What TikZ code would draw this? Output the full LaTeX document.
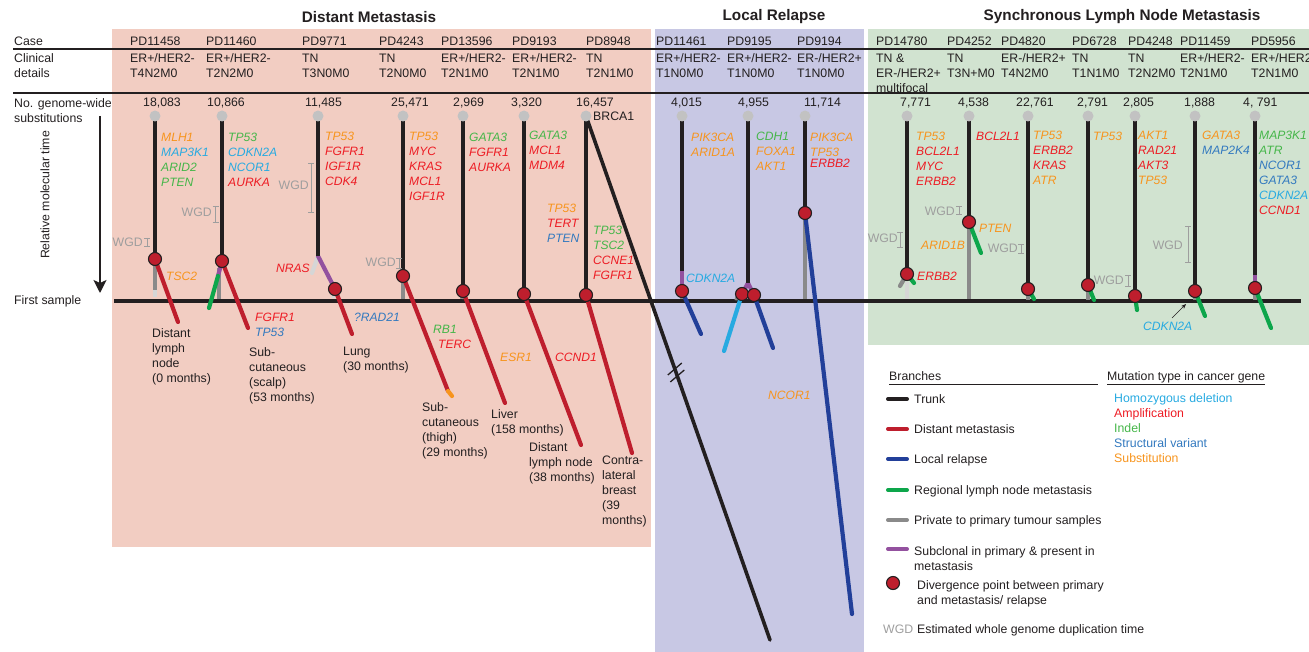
\documentclass[tikz,border=0pt]{standalone}
\usepackage{fontspec}
\setmainfont{Liberation Sans}
\usetikzlibrary{arrows.meta}
\definecolor{bgR}{HTML}{F2CDC2}
\definecolor{bgB}{HTML}{C8C8E4}
\definecolor{bgG}{HTML}{D1E3D0}
\definecolor{cHD}{HTML}{27AAE1}
\definecolor{cAmp}{HTML}{ED1C24}
\definecolor{cInd}{HTML}{45B649}
\definecolor{cSV}{HTML}{3279BF}
\definecolor{cSub}{HTML}{F7941D}
\definecolor{brT}{HTML}{231F20}
\definecolor{brR}{HTML}{BE1E2D}
\definecolor{brB}{HTML}{223F99}
\definecolor{brG}{HTML}{0DA64B}
\definecolor{brGr}{HTML}{8A8A8A}
\definecolor{brLG}{HTML}{D6D6D6}
\definecolor{brP}{HTML}{93519F}
\definecolor{dotG}{HTML}{C2C2C2}
\definecolor{wgdC}{HTML}{9E9E9E}
\definecolor{txt}{HTML}{231F20}
\newcommand\gSub[1]{\textcolor{cSub}{#1}}
\newcommand\gAmp[1]{\textcolor{cAmp}{#1}}
\newcommand\gInd[1]{\textcolor{cInd}{#1}}
\newcommand\gSV[1]{\textcolor{cSV}{#1}}
\newcommand\gHD[1]{\textcolor{cHD}{#1}}
\newcommand\wgdbar[3]{\draw[wgdbarln] (#1-3,#2) -- (#1+3,#2) (#1,#2) -- (#1,#3) (#1-3,#3) -- (#1+3,#3);}
\tikzset{
 tb/.style={inner sep=0pt, text=txt, font=\fontsize{12.3}{15}\selectfont},
 lbl/.style={tb, anchor=base west, align=left},
 mlbl/.style={tb, anchor=north west, align=left},
 gene/.style={tb, anchor=base west, align=left, font=\itshape\fontsize{12.1}{15}\selectfont},
 mgene/.style={gene, anchor=north west},
 ttl/.style={inner sep=0pt, text=txt, font=\bfseries\fontsize{15.3}{18}\selectfont},
 wgdtxt/.style={tb, anchor=base east, text=wgdC},
 wgdbarln/.style={draw=wgdC, line width=0.8pt},
 hln/.style={draw=brT, line width=1.5pt},
 trunkln/.style={draw=brT, line width=3.6pt},
 brln/.style={line width=4.2pt, line cap=round},
 stub/.style={line width=3.6pt},
 legln/.style={line width=4pt, line cap=round},
 gdot/.style={circle, fill=dotG, minimum size=11pt, inner sep=0pt},
 rdot/.style={circle, fill=brR, draw=brT, line width=1.1pt, minimum size=13pt, inner sep=0pt},
}
\begin{document}
\begin{tikzpicture}[x=1pt,y=-1pt]
\useasboundingbox (0,0) rectangle (1309,652);
\clip (0,0) rectangle (1309,652);
% backgrounds
\fill[bgR] (112,29) rectangle (651,547);
\fill[bgB] (655,29) rectangle (864,652);
\fill[bgG] (868,29) rectangle (1309,345);
% titles
\node[ttl] (ttlA) at (369,17) {Distant Metastasis};
\node[ttl] (ttlB) at (774,17) {Local Relapse};
\node[ttl] (ttlC) at (1122,17) {Synchronous Lymph Node Metastasis};
% header rules
\draw[hln] (13,49) -- (1309,49);
\draw[hln] (13,93) -- (1309,93);
% first sample line
\coordinate (fsL) at (114,301);
\coordinate (fsR) at (1301,301);
\draw[draw=brT, line width=3.6pt] (fsL) -- (fsR);
% left labels
\node[lbl] (lCase) at (14,45.4) {Case};
\node[mlbl] (lClin) at (14,53.6) {Clinical\\details};
\node[mlbl] (lNo) at (14,98.6) {No. genome-wide\\substitutions};
\node[lbl] (lFirst) at (14,304.4) {First sample};
\node[tb, rotate=90] (lRel) at (45,195) {Relative molecular time};
\coordinate (arTop) at (100,116);
\coordinate (arBot) at (100,293);
\draw[brT, line width=1.5pt, -{Stealth[length=13pt,width=13pt,inset=3pt]}] (arTop) -- (arBot);

% ---------- coordinates ----------
\coordinate (A1t) at (155,116); \coordinate (A1d) at (155,259); \coordinate (A1g) at (155,290); \coordinate (A1l) at (155,297); \coordinate (A1e) at (178,322);
\coordinate (A2t) at (222,116); \coordinate (A2d) at (222,261); \coordinate (A2p) at (218,276); \coordinate (A2gn) at (209,308); \coordinate (A2g0) at (219,268); \coordinate (A2g) at (219,299); \coordinate (A2e) at (248,328);
\coordinate (A3t) at (318,116); \coordinate (A3k) at (318,256); \coordinate (A3lg) at (312,273); \coordinate (A3d) at (335,289); \coordinate (A3s) at (333,298); \coordinate (A3e) at (352,334);
\coordinate (A4t) at (403,116); \coordinate (A4d) at (403,276); \coordinate (A4g) at (403,299); \coordinate (A4e) at (448,391); \coordinate (A4o) at (452,396);
\coordinate (A5t) at (463,116); \coordinate (A5d) at (463,291); \coordinate (A5g) at (462,299); \coordinate (A5e) at (505,403);
\coordinate (A6t) at (524,116); \coordinate (A6d) at (524,294); \coordinate (A6g) at (523,300); \coordinate (A6e) at (581,445);
\coordinate (A7t) at (586,116); \coordinate (A7d) at (586,295); \coordinate (A7e) at (632,453); \coordinate (A7x) at (770,640);
\coordinate (B1t) at (682,116); \coordinate (B1p) at (682,271); \coordinate (B1d) at (682,291); \coordinate (B1g) at (682,299); \coordinate (B1e) at (701,334);
\coordinate (B2t) at (748,116); \coordinate (B2k) at (748,283); \coordinate (B2d1) at (742,294); \coordinate (B2d2) at (754,295); \coordinate (B2g) at (736,299); \coordinate (B2e1) at (724,351); \coordinate (B2e2) at (773,348);
\coordinate (B3t) at (805,116); \coordinate (B3d) at (805,213); \coordinate (B3g) at (805,299); \coordinate (B3e) at (852,614);
\coordinate (C1t) at (907,116); \coordinate (C1d) at (907,274); \coordinate (C1dg) at (900,286); \coordinate (C1gn) at (914,283); \coordinate (C1l0) at (907,282); \coordinate (C1l) at (907,299);
\coordinate (C2t) at (969,116); \coordinate (C2d) at (969,222); \coordinate (C2g) at (969,299); \coordinate (C2gn) at (981,253);
\coordinate (C3t) at (1028,116); \coordinate (C3d) at (1028,289); \coordinate (C3g) at (1028,300); \coordinate (C3gn) at (1034,299);
\coordinate (C4t) at (1088,116); \coordinate (C4d) at (1088,285); \coordinate (C4g) at (1088,300); \coordinate (C4gn) at (1094,300);
\coordinate (C5t) at (1135,116); \coordinate (C5d) at (1135,296); \coordinate (C5gn) at (1137,310);
\coordinate (C6t) at (1195,116); \coordinate (C6d) at (1195,291); \coordinate (C6g) at (1195,300); \coordinate (C6gn) at (1205,316);
\coordinate (C7t) at (1255,116); \coordinate (C7p) at (1255,275); \coordinate (C7d) at (1255,288); \coordinate (C7g) at (1255,300); \coordinate (C7gn) at (1271,328);

% ---------- branches ----------
\draw[stub, brGr] (A1d) -- (A1g); \draw[stub, brLG] (A1g) -- (A1l);
\draw[brln, brR] (A1d) -- (A1e);
\draw[stub, brGr] (A2g0) -- (A2g);
\draw[brln, brP] (A2d) -- (A2p); \draw[brln, brG] (A2p) -- (A2gn);
\draw[brln, brR] (A2d) -- (A2e);
\draw[brln, brLG] (A3k) -- (A3lg);
\draw[brln, brP] (A3k) -- (A3d);
\draw[stub, brLG] (A3d) -- (A3s);
\draw[brln, brR] (A3d) -- (A3e);
\draw[stub, brGr] (A4d) -- (A4g);
\draw[brln, brR] (A4d) -- (A4e); \draw[brln, cSub] (A4e) -- (A4o);
\draw[stub, brGr] (A5d) -- (A5g); \draw[brln, brR] (A5d) -- (A5e);
\draw[stub, brGr] (A6d) -- (A6g); \draw[brln, brR] (A6d) -- (A6e);
\draw[brln, brR] (A7d) -- (A7e);
\draw[draw=brT, line width=3.6pt, line cap=round] (A7t) -- (A7x);
\draw[brT, line width=1.3pt] (667.8,375) -- (681.8,363) (670.3,382) -- (684.3,370);
\draw[stub, brGr] (B1d) -- (B1g); \draw[brln, brB] (B1d) -- (B1e);
\draw[brln, brP] (B2k) -- (B2d1); \draw[brln, brP] (B2k) -- (B2d2);
\draw[stub, brGr, line cap=round] (B2d1) -- (B2g);
\draw[brln, cHD] (B2d1) -- (B2e1); \draw[brln, brB] (B2d2) -- (B2e2);
\draw[stub, brGr] (B3d) -- (B3g); \draw[brln, brB] (B3d) -- (B3e);
\draw[stub, brLG] (C1l0) -- (C1l); \draw[brln, brGr] (C1d) -- (C1dg); \draw[brln, brG] (C1d) -- (C1gn);
\draw[stub, brGr] (C2d) -- (C2g); \draw[brln, brG] (C2d) -- (C2gn);
\draw[stub, brGr] (C3d) -- (C3g); \draw[brln, brG] (C3d) -- (C3gn);
\draw[stub, brGr] (C4d) -- (C4g); \draw[brln, brG] (C4d) -- (C4gn);
\draw[brln, brG] (C5d) -- (C5gn);
\draw[stub, brGr] (C6d) -- (C6g); \draw[brln, brG] (C6d) -- (C6gn);
\draw[stub, brGr] (C7d) -- (C7g); \draw[brln, brG] (C7d) -- (C7gn);

% ---------- trunks ----------
\draw[trunkln] (A1t) -- (A1d);
\draw[trunkln] (A2t) -- (A2d);
\draw[trunkln] (A3t) -- (A3k);
\draw[trunkln] (A4t) -- (A4d);
\draw[trunkln] (A5t) -- (A5d);
\draw[trunkln] (A6t) -- (A6d);
\draw[trunkln] (A7t) -- (A7d);
\draw[trunkln] (B1t) -- (B1p); \draw[draw=brP, line width=3.6pt] (B1p) -- (B1d);
\draw[trunkln] (B2t) -- (B2k);
\draw[trunkln] (B3t) -- (B3d);
\draw[trunkln] (C1t) -- (C1d);
\draw[trunkln] (C2t) -- (C2d);
\draw[trunkln] (C3t) -- (C3d);
\draw[trunkln] (C4t) -- (C4d);
\draw[trunkln] (C5t) -- (C5d);
\draw[trunkln] (C6t) -- (C6d);
\draw[trunkln] (C7t) -- (C7p); \draw[draw=brP, line width=3.6pt] (C7p) -- (C7d);

% ---------- dots ----------
\foreach \c in {A1,A2,A3,A4,A5,A6,A7,B1,B2,B3,C1,C2,C3,C4,C5,C6,C7}{\node[gdot] (g\c) at (\c t) {};}
\foreach \c in {A1,A2,A3,A4,A5,A6,A7,B1,B3,C1,C2,C3,C4,C5,C6,C7}{\node[rdot] (r\c) at (\c d) {};}
\node[rdot] (rB2a) at (B2d1) {};
\node[rdot] (rB2b) at (B2d2) {};

% ---------- case headers ----------
\node[lbl] (hA1) at (130,45.4) {PD11458}; \node[mlbl] (dA1) at (130,53.6) {ER+/HER2-\\T4N2M0};
\node[lbl] (hA2) at (206,45.4) {PD11460}; \node[mlbl] (dA2) at (206,53.6) {ER+/HER2-\\T2N2M0};
\node[lbl] (hA3) at (302,45.4) {PD9771}; \node[mlbl] (dA3) at (302,53.6) {TN\\T3N0M0};
\node[lbl] (hA4) at (379,45.4) {PD4243}; \node[mlbl] (dA4) at (379,53.6) {TN\\T2N0M0};
\node[lbl] (hA5) at (441,45.4) {PD13596}; \node[mlbl] (dA5) at (441,53.6) {ER+/HER2-\\T2N1M0};
\node[lbl] (hA6) at (512,45.4) {PD9193}; \node[mlbl] (dA6) at (512,53.6) {ER+/HER2-\\T2N1M0};
\node[lbl] (hA7) at (586,45.4) {PD8948}; \node[mlbl] (dA7) at (586,53.6) {TN\\T2N1M0};
\node[lbl] (hB1) at (656,45.4) {PD11461}; \node[mlbl] (dB1) at (656,53.6) {ER+/HER2-\\T1N0M0};
\node[lbl] (hB2) at (727,45.4) {PD9195}; \node[mlbl] (dB2) at (727,53.6) {ER+/HER2-\\T1N0M0};
\node[lbl] (hB3) at (797,45.4) {PD9194}; \node[mlbl] (dB3) at (797,53.6) {ER-/HER2+\\T1N0M0};
\node[lbl] (hC1) at (876,45.4) {PD14780}; \node[mlbl] (dC1) at (876,53.6) {TN \&\\ER-/HER2+\\multifocal};
\node[lbl] (hC2) at (947,45.4) {PD4252}; \node[mlbl] (dC2) at (947,53.6) {TN\\T3N+M0};
\node[lbl] (hC3) at (1001,45.4) {PD4820}; \node[mlbl] (dC3) at (1001,53.6) {ER-/HER2+\\T4N2M0};
\node[lbl] (hC4) at (1072,45.4) {PD6728}; \node[mlbl] (dC4) at (1072,53.6) {TN\\T1N1M0};
\node[lbl] (hC5) at (1128,45.4) {PD4248}; \node[mlbl] (dC5) at (1128,53.6) {TN\\T2N2M0};
\node[lbl] (hC6) at (1180,45.4) {PD11459}; \node[mlbl] (dC6) at (1180,53.6) {ER+/HER2-\\T2N1M0};
\node[lbl] (hC7) at (1251,45.4) {PD5956}; \node[mlbl] (dC7) at (1251,53.6) {ER+/HER2+\\T2N1M0};

% ---------- substitution counts ----------
\node[lbl] (nA1) at (143,106.4) {18,083};
\node[lbl] (nA2) at (207,106.4) {10,866};
\node[lbl] (nA3) at (305,106.4) {11,485};
\node[lbl] (nA4) at (391,106.4) {25,471};
\node[lbl] (nA5) at (453,106.4) {2,969};
\node[lbl] (nA6) at (511,106.4) {3,320};
\node[lbl] (nA7) at (576,106.4) {16,457};
\node[lbl] (nB1) at (671,106.4) {4,015};
\node[lbl] (nB2) at (738,106.4) {4,955};
\node[lbl] (nB3) at (804,106.4) {11,714};
\node[lbl] (nC1) at (900,106.4) {7,771};
\node[lbl] (nC2) at (958,106.4) {4,538};
\node[lbl] (nC3) at (1016,106.4) {22,761};
\node[lbl] (nC4) at (1077,106.4) {2,791};
\node[lbl] (nC5) at (1123,106.4) {2,805};
\node[lbl] (nC6) at (1184,106.4) {1,888};
\node[lbl] (nC7) at (1243,106.4) {4, 791};
\node[lbl] (brca) at (593,120.4) {BRCA1};

% ---------- genes ----------
\node[mgene] (kA1) at (161,132.6) {\gSub{MLH1}\\\gHD{MAP3K1}\\\gInd{ARID2}\\\gInd{PTEN}};
\node[mgene] (kA2) at (228,132.6) {\gInd{TP53}\\\gHD{CDKN2A}\\\gHD{NCOR1}\\\gAmp{AURKA}};
\node[mgene] (kA3) at (325,131.6) {\gSub{TP53}\\\gAmp{FGFR1}\\\gAmp{IGF1R}\\\gAmp{CDK4}};
\node[mgene] (kA4) at (409,131.6) {\gSub{TP53}\\\gAmp{MYC}\\\gAmp{KRAS}\\\gAmp{MCL1}\\\gAmp{IGF1R}};
\node[mgene] (kA5) at (469,132.6) {\gInd{GATA3}\\\gAmp{FGFR1}\\\gAmp{AURKA}};
\node[mgene] (kA6) at (529,130.6) {\gInd{GATA3}\\\gAmp{MCL1}\\\gAmp{MDM4}};
\node[mgene] (kA6b) at (547,203.6) {\gSub{TP53}\\\gAmp{TERT}\\\gSV{PTEN}};
\node[mgene] (kA7) at (593,225.6) {\gInd{TP53}\\\gInd{TSC2}\\\gAmp{CCNE1}\\\gAmp{FGFR1}};
\node[gene] (mA1) at (166,280.4) {\gSub{TSC2}};
\node[gene, anchor=base east] (mA3) at (310,272.4) {\gAmp{NRAS}};
\node[mgene] (mA2) at (255,312.6) {\gAmp{FGFR1}\\\gSV{TP53}};
\node[gene] (mA3b) at (354,321.4) {\gSV{?RAD21}};
\node[gene] (mA4a) at (433,333.4) {\gInd{RB1}};
\node[gene] (mA4b) at (438,348.4) {\gAmp{TERC}};
\node[gene] (mA5) at (500,361.4) {\gSub{ESR1}};
\node[gene] (mA6) at (555,361.4) {\gAmp{CCND1}};
\node[mgene] (kB1) at (691,132.6) {\gSub{PIK3CA}\\\gSub{ARID1A}};
\node[gene] (mB1) at (686,282.4) {\gHD{CDKN2A}};
\node[mgene] (kB2) at (756,131.6) {\gInd{CDH1}\\\gSub{FOXA1}\\\gSub{AKT1}};
\node[mgene] (kB3) at (810,132.6) {\gSub{PIK3CA}\\\gSub{TP53}};
\node[gene] (kB3b) at (810,167.4) {\gAmp{ERBB2}};
\node[gene] (mB3) at (768,399.4) {\gSub{NCOR1}};
\node[mgene] (kC1) at (916,131.6) {\gSub{TP53}\\\gAmp{BCL2L1}\\\gAmp{MYC}\\\gAmp{ERBB2}};
\node[gene] (mC1a) at (921,249.4) {\gSub{ARID1B}};
\node[gene] (mC1b) at (917,280.4) {\gAmp{ERBB2}};
\node[gene] (kC2) at (976,140.4) {\gAmp{BCL2L1}};
\node[gene] (mC2) at (979,232.4) {\gSub{PTEN}};
\node[mgene] (kC3) at (1033,130.6) {\gSub{TP53}\\\gAmp{ERBB2}\\\gAmp{KRAS}\\\gSub{ATR}};
\node[gene] (kC4) at (1093,140.4) {\gSub{TP53}};
\node[mgene] (kC5) at (1138,130.6) {\gSub{AKT1}\\\gAmp{RAD21}\\\gAmp{AKT3}\\\gSub{TP53}};
\node[mgene] (kC6) at (1202,130.6) {\gSub{GATA3}\\\gSV{MAP2K4}};
\node[gene] (mC6) at (1143,330.4) {\gHD{CDKN2A}};
\coordinate (arC6a) at (1172,318);
\coordinate (arC6b) at (1186,304);
\draw[brT, line width=0.6pt, -{Stealth[length=5pt,width=4pt]}] (arC6a) -- (arC6b);
\node[mgene] (kC7) at (1259,130.6) {\gInd{MAP3K1}\\\gInd{ATR}\\\gSV{NCOR1}\\\gSV{GATA3}\\\gHD{CDKN2A}\\\gAmp{CCND1}};

% ---------- WGD marks ----------
\node[wgdtxt] (wA1) at (143,246.4) {WGD}; \wgdbar{147}{238}{246}
\node[wgdtxt] (wA2) at (212,216.4) {WGD}; \wgdbar{215.5}{206}{222}
\node[wgdtxt] (wA3) at (309,189.4) {WGD}; \wgdbar{311}{163}{212}
\node[wgdtxt] (wA4) at (396,266.4) {WGD}; \wgdbar{399}{258}{268}
\node[wgdtxt] (wC1) at (898,242.4) {WGD}; \wgdbar{900}{232}{247}
\node[wgdtxt] (wC2) at (955,215.4) {WGD}; \wgdbar{959}{206}{214}
\node[wgdtxt] (wC3) at (1018,252.4) {WGD}; \wgdbar{1021}{244}{253}
\node[wgdtxt] (wC4) at (1124,284.4) {WGD}; \wgdbar{1128}{275}{286}
\node[wgdtxt] (wC6) at (1183,249.4) {WGD}; \wgdbar{1188}{226}{262}

% ---------- sample labels ----------
\node[mlbl] (sA1) at (152,328.6) {Distant\\lymph\\node\\(0 months)};
\node[mlbl] (sA2) at (249,347.6) {Sub-\\cutaneous\\(scalp)\\(53 months)};
\node[mlbl] (sA3) at (343,346.6) {Lung\\(30 months)};
\node[mlbl] (sA4) at (422,402.6) {Sub-\\cutaneous\\(thigh)\\(29 months)};
\node[mlbl] (sA5) at (491,409.6) {Liver\\(158 months)};
\node[mlbl] (sA6) at (529,442.6) {Distant\\lymph node\\(38 months)};
\node[mlbl] (sA7) at (602,455.6) {Contra-\\lateral\\breast\\(39\\months)};

% ---------- legend ----------
\node[lbl] (lgB) at (889,380.4) {Branches};
\coordinate (ulBa) at (889,384); \coordinate (ulBb) at (1098,384);
\draw[brT, line width=0.9pt] (ulBa) -- (ulBb);
\node[lbl] (lgM) at (1107,380.4) {Mutation type in cancer gene};
\coordinate (ulMa) at (1107,384); \coordinate (ulMb) at (1265,384);
\draw[brT, line width=0.9pt] (ulMa) -- (ulMb);
\coordinate (lg1a) at (888,399); \coordinate (lg1b) at (907,399);
\coordinate (lg2a) at (888,429); \coordinate (lg2b) at (907,429);
\coordinate (lg3a) at (888,459); \coordinate (lg3b) at (907,459);
\coordinate (lg4a) at (888,490); \coordinate (lg4b) at (907,490);
\coordinate (lg5a) at (888,520); \coordinate (lg5b) at (907,520);
\coordinate (lg6a) at (888,549); \coordinate (lg6b) at (907,549);
\draw[legln, brT] (lg1a) -- (lg1b);
\draw[legln, brR] (lg2a) -- (lg2b);
\draw[legln, brB] (lg3a) -- (lg3b);
\draw[legln, brG] (lg4a) -- (lg4b);
\draw[legln, brGr] (lg5a) -- (lg5b);
\draw[legln, brP] (lg6a) -- (lg6b);
\node[lbl] (lt1) at (914,403.4) {Trunk};
\node[lbl] (lt2) at (914,433.4) {Distant metastasis};
\node[lbl] (lt3) at (914,463.4) {Local relapse};
\node[lbl] (lt4) at (914,494.4) {Regional lymph node metastasis};
\node[lbl] (lt5) at (914,524.4) {Private to primary tumour samples};
\node[mlbl] (lt6) at (914,546.6) {Subclonal in primary \& present in\\metastasis};
\node[rdot] (lgDot) at (893,583) {};
\node[mlbl] (lt7) at (917,580.6) {Divergence point between primary\\and metastasis/ relapse};
\node[lbl, text=wgdC] (lgW) at (883,633.4) {WGD};
\node[lbl] (lt8) at (917,633.4) {Estimated whole genome duplication time};
\node[mlbl] (lgTypes) at (1114,393.6) {\textcolor{cHD}{Homozygous deletion}\\\textcolor{cAmp}{Amplification}\\\textcolor{cInd}{Indel}\\\textcolor{cSV}{Structural variant}\\\textcolor{cSub}{Substitution}};
\end{tikzpicture}
\end{document}
